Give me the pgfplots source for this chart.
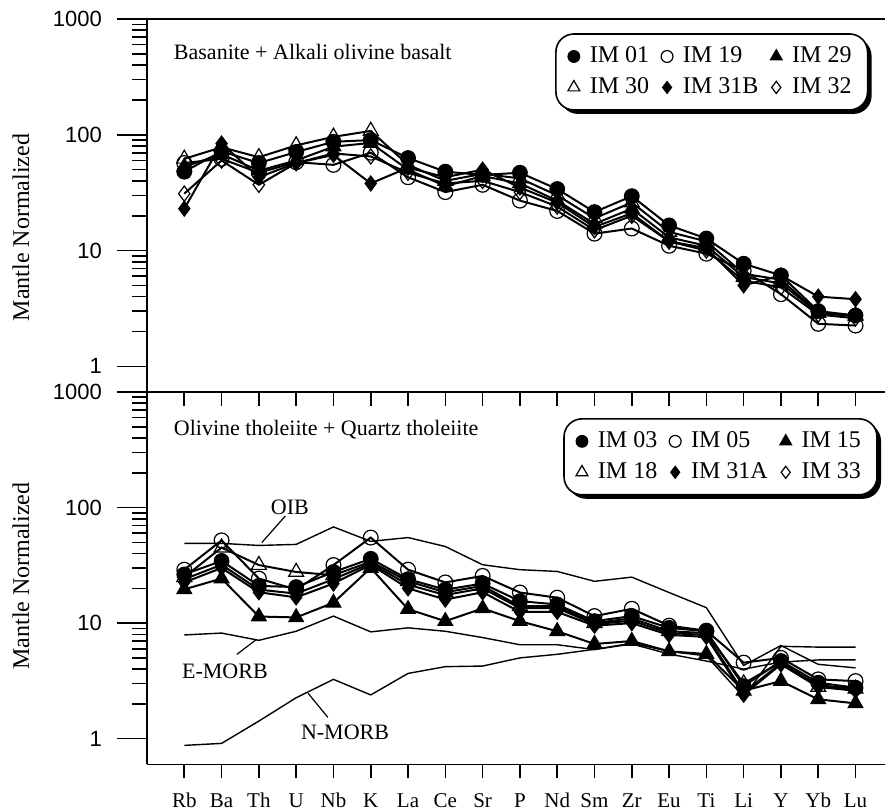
\documentclass[border=0pt]{standalone}
\usepackage{fontspec}
\setmainfont{Liberation Serif}
\setsansfont{Liberation Sans}
\usepackage{pgfplots}
\pgfplotsset{compat=1.18}
\usepackage{pgfplotstable}
\usetikzlibrary{shadows}

% Primitive-mantle normalised trace elements, alkaline group
\pgfplotstableread{
x  im01 im19 im29 im30 im31b im32
0  48   57   53   62   23    31
1  72   62   68   78   84    60
2  57   47   49   64   43    37
3  71   58   60   81   57    57
4  87   55   79   96   67    69
5  90   70   85   108  38    65
6  63   43   50   55   52    47
7  48   32   36   40   43    38
8  45   37   44   46   50    40
9  47   27   38   42   35    32
10 34   22   27   30   26    24
11 21.5 14   17   19   16    15
12 29.5 15.5 23   26   21    20
13 16.5 11   13   14.5 12    12
14 12.7 9.4  11   12   10.5  10
15 7.7  6.7  5.9  6.3  5.0   5.5
16 6.1  4.2  5.2  5.6  6.1   4.8
17 3.0  2.33 2.9  2.9  4.0   2.8
18 2.75 2.25 2.7  2.75 3.8   2.6
}\alkaline

% Tholeiitic group
\pgfplotstableread{
x  im03 im05 im15 im18 im31a im33
0  26.4 29   19.6 25   22.5  24
1  34.5 52   24.3 45   30    32
2  21   24.3 11.4 31.8 18.5  19.5
3  20.5 19.5 11.2 27.7 16.7  18
4  27.7 31.8 15   26   22    24
5  36   55   30   34   32    33
6  24   29   13.2 23   20    21.5
7  19.5 22.5 10.4 18.5 16    17.5
8  22   25.6 13.4 21   18.5  20
9  15.5 18.4 10.4 14   12.5  13.5
10 14.5 16.6 8.5  14   12.5  13.5
11 10.4 11.5 6.6  10   9.5   9.8
12 11.5 13.3 7    11   10    10.5
13 9.1  9.5  5.7  8.5  7.9   8.2
14 8.5  8.6  5.4  8.2  7.6   7.9
15 2.85 4.55 2.6  3.0  2.4   2.5
16 4.7  5.0  3.15 4.6  4.4   4.5
17 3.05 3.26 2.19 2.8  2.8   2.9
18 2.76 3.15 2.02 2.7  2.6   2.7
}\tholeiitic

% Reference compositions: OIB, E-MORB, N-MORB
\pgfplotstableread{
x  oib  emorb nmorb
0  49   7.9   0.875
1  49   8.2   0.91
2  47   7.1   1.42
3  48   8.5   2.26
4  68   11.5  3.26
5  51   8.4   2.39
6  55   9.1   3.67
7  46   8.5   4.2
8  32   7.5   4.25
9  29   6.5   5.0
10 28   6.5   5.37
11 23   5.9   5.93
12 25   6.6   6.7
13 18.4 5.4   5.7
14 13.6 4.7   5.2
15 4.3  4.0   2.3
16 6.4  4.6   6.3
17 4.4  4.8   6.2
18 4.1  4.8   6.2
}\reference

% sample symbols
\tikzset{
  sA/.style={black, line width=1pt, mark=*, mark size=3.7pt,
    mark options={solid, fill=black, line width=0.5pt}},
  sB/.style={black, line width=1pt, mark=o, mark size=3.7pt,
    mark options={solid, fill=white, line width=0.6pt}},
  sC/.style={black, line width=1pt, mark=triangle*, mark size=4.3pt,
    mark options={solid, fill=black, line width=0.5pt}},
  sD/.style={black, line width=1pt, mark=triangle, mark size=4.3pt,
    mark options={solid, fill=white, line width=0.6pt}},
  sE/.style={black, line width=1pt, mark=diamond*, mark size=3.8pt,
    mark options={solid, fill=black, line width=0.5pt}},
  sF/.style={black, line width=1pt, mark=diamond, mark size=3.8pt,
    mark options={solid, fill=white, line width=0.6pt}},
  boxshadow/.style={drop shadow={shadow xshift=2pt, shadow yshift=-2pt,
    opacity=1, fill=black}},
}

\newcommand\tickfont{\sffamily\fontsize{11}{13}\selectfont}
\newcommand\txtfont{\fontsize{11}{13}\selectfont}
\newcommand\legfont{\fontsize{12}{14}\selectfont}

\begin{document}
\begin{tikzpicture}
\path[use as bounding box] (-73.5pt,-209.5pt) rectangle (369pt,196pt);

% ---------- upper panel ----------
\begin{axis}[at={(0,0)}, anchor=south west,
  scale only axis, width=369pt, height=186.5pt,
  xmin=-1, xmax=18.79, ymode=log, ymin=0.6, ymax=1000,
  axis x line*=box, axis y line*=left,
  axis line style={-, line width=0.8pt},
  xtick=\empty, ytick={1,10,100,1000},
  yticklabels={1,10,100,1000}, ytick pos=left,
  tick align=outside, major tick length=15pt, minor tick length=7.5pt,
  tick style={line width=0.8pt, black},
  yticklabel style={font=\tickfont, xshift=-4pt},
  clip=false,
  legend columns=3, legend cell align=left,
  legend image code/.code={%
    \draw[#1, /tikz/every mark/.append style={scale=0.8}]
      plot coordinates {(0.14cm,0cm)};},
  legend style={font=\legfont, draw=black,
    line width=0.8pt, rounded corners=9pt, fill=white, boxshadow,
    inner xsep=6pt, inner ysep=4.5pt, row sep=2pt,
    /tikz/every odd column/.append style={column sep=3pt},
    /tikz/every even column/.append style={column sep=4pt},
    at={(0.553,0.962)}, anchor=north west},
]
  \addplot[sA] table[x=x, y=im01] {\alkaline};
  \addplot[sB] table[x=x, y=im19] {\alkaline};
  \addplot[sC] table[x=x, y=im29] {\alkaline};
  \addplot[sD] table[x=x, y=im30] {\alkaline};
  \addplot[sE] table[x=x, y=im31b] {\alkaline};
  \addplot[sF] table[x=x, y=im32] {\alkaline};
  \legend{IM 01, IM 19, IM 29, IM 30, IM 31B, IM 32}
  \node[anchor=west, font=\txtfont]
    at (rel axis cs:0.027,0.912) {Basanite + Alkali olivine basalt};
\end{axis}
\begin{axis}[at={(0,0)}, anchor=south west,
  scale only axis, width=369pt, height=186.5pt,
  xmin=-1, xmax=18.79, ymin=0, ymax=1,
  hide y axis, axis x line*=bottom,
  axis line style={-, line width=0.8pt},
  xtick={0,...,18}, xticklabels={}, tick align=outside, major tick length=7pt,
  tick style={line width=0.8pt, black}]
\end{axis}

% ---------- lower panel ----------
\begin{axis}[at={(0,0)}, anchor=north west,
  scale only axis, width=369pt, height=186.15pt,
  xmin=-1, xmax=18.79, ymode=log, ymin=0.6, ymax=1000,
  axis x line*=box, axis y line*=left,
  axis line style={-, line width=0.8pt},
  xtick=\empty, ytick={1,10,100,1000},
  yticklabels={1,10,100,1000}, ytick pos=left,
  tick align=outside, major tick length=15pt, minor tick length=7.5pt,
  tick style={line width=0.8pt, black},
  yticklabel style={font=\tickfont, xshift=-4pt},
  clip=false,
  legend columns=3, legend cell align=left,
  legend image code/.code={%
    \draw[#1, /tikz/every mark/.append style={scale=0.8}]
      plot coordinates {(0.14cm,0cm)};},
  legend style={font=\legfont, draw=black,
    line width=0.8pt, rounded corners=9pt, fill=white, boxshadow,
    inner xsep=6pt, inner ysep=4.5pt, row sep=2pt,
    /tikz/every odd column/.append style={column sep=3pt},
    /tikz/every even column/.append style={column sep=4pt},
    at={(0.564,0.93)}, anchor=north west},
]
  \addplot[black, line width=0.7pt, forget plot] table[x=x, y=oib] {\reference};
  \addplot[black, line width=0.7pt, forget plot] table[x=x, y=emorb] {\reference};
  \addplot[black, line width=0.7pt, forget plot] table[x=x, y=nmorb] {\reference};
  \addplot[sA] table[x=x, y=im03] {\tholeiitic};
  \addplot[sB] table[x=x, y=im05] {\tholeiitic};
  \addplot[sC] table[x=x, y=im15] {\tholeiitic};
  \addplot[sD] table[x=x, y=im18] {\tholeiitic};
  \addplot[sE] table[x=x, y=im31a] {\tholeiitic};
  \addplot[sF] table[x=x, y=im33] {\tholeiitic};
  \legend{IM 03, IM 05, IM 15, IM 18, IM 31A, IM 33}
  \node[anchor=west, font=\txtfont]
    at (rel axis cs:0.027,0.898) {Olivine tholeiite + Quartz tholeiite};
  % labels of the reference curves with leader lines
  \node[font=\txtfont] at (axis cs:2.83,100.7) {OIB};
  \draw[line width=0.6pt] (axis cs:2.71,84.6) -- (axis cs:2.08,49.8);
  \node[font=\txtfont] at (axis cs:1.09,3.85) {E-MORB};
  \draw[line width=0.6pt] (axis cs:1.41,5.37) -- (axis cs:1.94,7.24);
  \node[font=\txtfont] at (axis cs:4.31,1.13) {N-MORB};
  \draw[line width=0.6pt] (axis cs:3.85,1.53) -- (axis cs:3.32,2.47);
\end{axis}
\begin{axis}[at={(0,0)}, anchor=north west,
  scale only axis, width=369pt, height=186.15pt,
  xmin=-1, xmax=18.79, ymin=0, ymax=1,
  hide y axis, axis x line*=bottom,
  axis line style={-, line width=0.8pt},
  xtick={0,...,18}, tick align=outside, major tick length=7pt,
  tick style={line width=0.8pt, black},
  xticklabels={Rb,Ba,Th,U,Nb,K,La,Ce,Sr,P,Nd,Sm,Zr,Eu,Ti,Li,Y,Yb,Lu},
  xticklabel style={font=\fontsize{10.5}{12}\selectfont, yshift=-4pt}]
\end{axis}

% axis titles
\node[rotate=90, font=\fontsize{12}{14}\selectfont] at (-63pt,82.25pt) {Mantle Normalized};
\node[rotate=90, font=\fontsize{12}{14}\selectfont] at (-63pt,-92pt) {Mantle Normalized};
\end{tikzpicture}
\end{document}
